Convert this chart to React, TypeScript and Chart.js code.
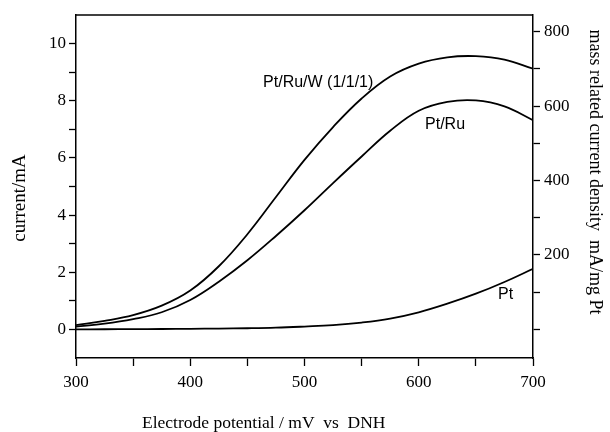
import React, { useEffect, useRef } from "react";
import { Chart, registerables } from "chart.js";

Chart.register(...registerables);

const potentials = [300, 325, 350, 375, 400, 425, 450, 475, 500, 525, 550, 575, 600, 625, 650, 675, 700];
const ptRuW = [0.15, 0.3, 0.5, 0.83, 1.36, 2.21, 3.33, 4.63, 5.93, 7.08, 8.08, 8.85, 9.3, 9.52, 9.56, 9.44, 9.12];
const ptRu = [0.1, 0.2, 0.36, 0.6, 1.03, 1.67, 2.42, 3.27, 4.17, 5.12, 6.05, 6.95, 7.65, 7.96, 8.01, 7.8, 7.32];
const pt = [0, 0.005, 0.01, 0.015, 0.02, 0.03, 0.04, 0.06, 0.1, 0.15, 0.24, 0.38, 0.6, 0.9, 1.25, 1.66, 2.12];

const xTicks = [300, 350, 400, 450, 500, 550, 600, 650, 700];
const yTicks = [0, 1, 2, 3, 4, 5, 6, 7, 8, 9, 10];
const y2Ticks = [0, 100, 200, 300, 400, 500, 600, 700, 800];

const curveLabels = [
  { text: "Pt/Ru/W (1/1/1)", x: 512, y: 8.64 },
  { text: "Pt/Ru", x: 623, y: 7.17 },
  { text: "Pt", x: 676, y: 1.22 },
];

const xTitle = "Electrode potential / mV  vs  DNH";
const yTitle = "current/mA";
const y2Title = "mass related current density  mA/mg Pt";

const SERIF = "'Liberation Serif', 'Times New Roman', serif";
const SANS = "'Liberation Sans', Arial, sans-serif";

const toPts = (ys: number[]) => potentials.map((x, i) => ({ x, y: ys[i] }));

export default function App() {
  const ref = useRef<HTMLCanvasElement | null>(null);
  useEffect(() => {
    if (!ref.current) return;
    const textPlugin = {
      id: "textPlugin",
      afterDraw(chart: any) {
        const { ctx, chartArea, scales } = chart;
        ctx.save();
        ctx.strokeStyle = "#000";
        ctx.lineWidth = 1.5;
        ctx.beginPath();
        ctx.moveTo(chartArea.left, chartArea.top);
        ctx.lineTo(chartArea.right, chartArea.top);
        ctx.stroke();
        ctx.fillStyle = "#000";
        ctx.font = `16px ${SANS}`;
        ctx.textAlign = "center";
        ctx.textBaseline = "middle";
        for (const l of curveLabels) {
          ctx.fillText(l.text, scales.x.getPixelForValue(l.x), scales.y.getPixelForValue(l.y));
        }
        ctx.font = `17.5px ${SERIF}`;
        ctx.textAlign = "left";
        ctx.fillText(xTitle, chartArea.left + 66, 423);
        ctx.textAlign = "center";
        ctx.save();
        ctx.translate(20, 198);
        ctx.rotate(-Math.PI / 2);
        ctx.font = `19px ${SERIF}`;
        ctx.fillText(yTitle, 0, 0);
        ctx.restore();
        ctx.save();
        ctx.translate(595, 172);
        ctx.rotate(Math.PI / 2);
        ctx.font = `18px ${SERIF}`;
        ctx.fillText(y2Title, 0, 0);
        ctx.restore();
        ctx.restore();
      },
    };
    const ds = (data: number[]) => ({
      data: toPts(data),
      borderColor: "#000",
      borderWidth: 1.8,
      pointRadius: 0,
      fill: false,
      tension: 0.4,
    });
    const chart = new Chart(ref.current, {
      type: "line",
      data: { datasets: [ds(ptRuW), ds(ptRu), ds(pt)] },
      options: {
        animation: false,
        responsive: true,
        maintainAspectRatio: false,
        layout: { padding: { top: 15, left: 0, right: 0, bottom: 0 } },
        plugins: { legend: { display: false }, tooltip: { enabled: false } },
        scales: {
          x: {
            type: "linear",
            min: 300,
            max: 700,
            afterBuildTicks: (s: any) => { s.ticks = xTicks.map((v) => ({ value: v })); },
            afterFit: (s: any) => { s.height = 74; },
            ticks: {
              color: "#000",
              font: { family: SERIF, size: 17 },
              padding: 6,
              maxRotation: 0,
              autoSkip: false,
              callback: (v: any) => (Number(v) % 100 === 0 ? String(v) : ""),
            },
            grid: { drawOnChartArea: false, tickLength: 8, color: "#000", tickWidth: 1.3 },
            border: { display: true, color: "#000", width: 1.5 },
          },
          y: {
            type: "linear",
            position: "left",
            min: -1,
            max: 11,
            afterBuildTicks: (s: any) => { s.ticks = yTicks.map((v) => ({ value: v })); },
            afterFit: (s: any) => { s.width = 76; },
            ticks: {
              color: "#000",
              font: { family: SERIF, size: 17 },
              padding: 3,
              autoSkip: false,
              callback: (v: any) => (Number(v) % 2 === 0 ? String(v) : ""),
            },
            grid: { drawOnChartArea: false, tickLength: 7, color: "#000", tickWidth: 1.3 },
            border: { display: true, color: "#000", width: 1.5 },
          },
          y2: {
            type: "linear",
            position: "right",
            min: -76.8,
            max: 844.8,
            afterBuildTicks: (s: any) => { s.ticks = y2Ticks.map((v) => ({ value: v })); },
            afterFit: (s: any) => { s.width = 77; },
            ticks: {
              color: "#000",
              font: { family: SERIF, size: 17 },
              padding: 4,
              autoSkip: false,
              callback: (v: any) => (Number(v) % 200 === 0 && Number(v) > 0 ? String(v) : ""),
            },
            grid: { drawOnChartArea: false, tickLength: 7, color: "#000", tickWidth: 1.3 },
            border: { display: true, color: "#000", width: 1.5 },
          },
        },
      },
      plugins: [textPlugin],
    });
    return () => chart.destroy();
  }, []);
  return (
    <div style={{ position: "absolute", left: 0, top: 0, width: 610, height: 432, background: "#fff" }}>
      <canvas ref={ref} />
    </div>
  );
}
